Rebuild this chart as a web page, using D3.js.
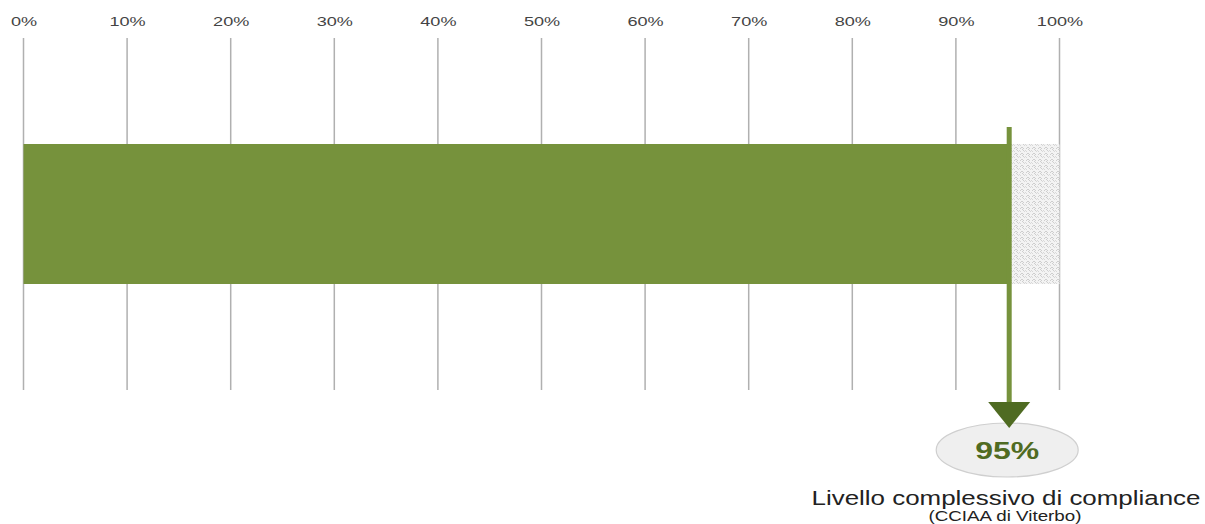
<!DOCTYPE html>
<html><head><meta charset="utf-8">
<script src="https://cdn.jsdelivr.net/npm/d3@7"></script>
<style>body{margin:0;background:#fff}svg{display:block}</style>
</head><body>
<script>
const categories = ["CCIAA di Viterbo"];
const values = [95];
const maxValue = [100];
const ticks = [0,10,20,30,40,50,60,70,80,90,100];
const tickLabels = ticks.map(t => t + "%");
const valueLabel = ["95%"];
const titleLines = ["Livello complessivo di compliance", "(CCIAA di Viterbo)"];

const W = 1205, H = 524;
const FONT = "Liberation Sans, Arial, sans-serif";
const svg = d3.select("body").append("svg").attr("width", W).attr("height", H);

const x = d3.scaleLinear().domain([0,100]).range([23.5,1059.5]);
const y = d3.scaleBand().domain(categories).range([144,284]).padding(0);

const defs = svg.append("defs");
const pat = defs.append("pattern").attr("id","hatch").attr("patternUnits","userSpaceOnUse")
  .attr("width",6).attr("height",6);
pat.append("rect").attr("width",6).attr("height",6).attr("fill","#f3f3f3");
pat.append("path").attr("d","M0,5 L2,3 L4,5 M3,1 L5,-1 M2,6 L3,5")
  .attr("stroke","#c4c4c4").attr("stroke-width",0.8).attr("fill","none");
pat.append("path").attr("d","M4,2 L6,0 M0,2 L1,1")
  .attr("stroke","#d0d0d0").attr("stroke-width",0.8).attr("fill","none");

// tick labels via axis
const axis = d3.axisTop(x).tickValues(ticks).tickFormat((d,i) => tickLabels[i]).tickSize(0).tickPadding(0);
const gAxis = svg.append("g").attr("transform","translate(0,26)").call(axis);
gAxis.select(".domain").remove();
gAxis.selectAll("text").attr("font-family",FONT)
  .attr("font-size",12.5).attr("fill","#444").attr("dy",0)
  .attr("transform","scale(1.45,1)");

svg.append("g").selectAll("line").data(ticks).join("line")
  .attr("x1", d => x(d)).attr("x2", d => x(d))
  .attr("y1", 38).attr("y2", 390)
  .attr("stroke","#b0b0b0").attr("stroke-width",1.5);

// remainder hatched
svg.selectAll("rect.rest").data(categories).join("rect").attr("class","rest")
  .attr("x", (d,i) => x(values[i])).attr("width", (d,i) => x(maxValue[0]) - x(values[i]))
  .attr("y", d => y(d)).attr("height", y.bandwidth())
  .attr("fill","url(#hatch)");

// bar
svg.selectAll("rect.bar").data(categories).join("rect").attr("class","bar")
  .attr("x", x(0)).attr("width", (d,i) => x(values[i]) - x(0))
  .attr("y", d => y(d)).attr("height", y.bandwidth())
  .attr("fill","#76923c");

// marker line
const mx = x(values[0]) + 1.5;
svg.append("line").attr("x1",mx).attr("x2",mx).attr("y1",127).attr("y2",404)
  .attr("stroke","#76923c").attr("stroke-width",5);

// ellipse
const ex = mx - 2;
svg.append("ellipse").attr("cx",ex).attr("cy",450).attr("rx",71).attr("ry",27)
  .attr("fill","#efefef").attr("stroke","#cfcfcf").attr("stroke-width",1.2);

// arrowhead
svg.append("path").attr("d",`M${mx-21},402 L${mx+21},402 L${mx},428 Z`).attr("fill","#4f6b22");

svg.append("text").attr("x",ex).attr("y",459).attr("text-anchor","middle")
  .attr("font-family",FONT).attr("font-weight","bold")
  .attr("font-size",24).attr("fill","#4f6b22")
  .attr("textLength",64).attr("lengthAdjust","spacingAndGlyphs")
  .text(valueLabel[0]);

svg.append("text").attr("x",1006).attr("y",505).attr("text-anchor","middle")
  .attr("font-family",FONT).attr("font-size",20.5).attr("fill","#222")
  .attr("textLength",389).attr("lengthAdjust","spacingAndGlyphs")
  .text(titleLines[0]);
svg.append("text").attr("x",1005).attr("y",520.5).attr("text-anchor","middle")
  .attr("font-family",FONT).attr("font-size",14.5).attr("fill","#222")
  .attr("textLength",153).attr("lengthAdjust","spacingAndGlyphs")
  .text(titleLines[1]);
</script>
</body></html>
